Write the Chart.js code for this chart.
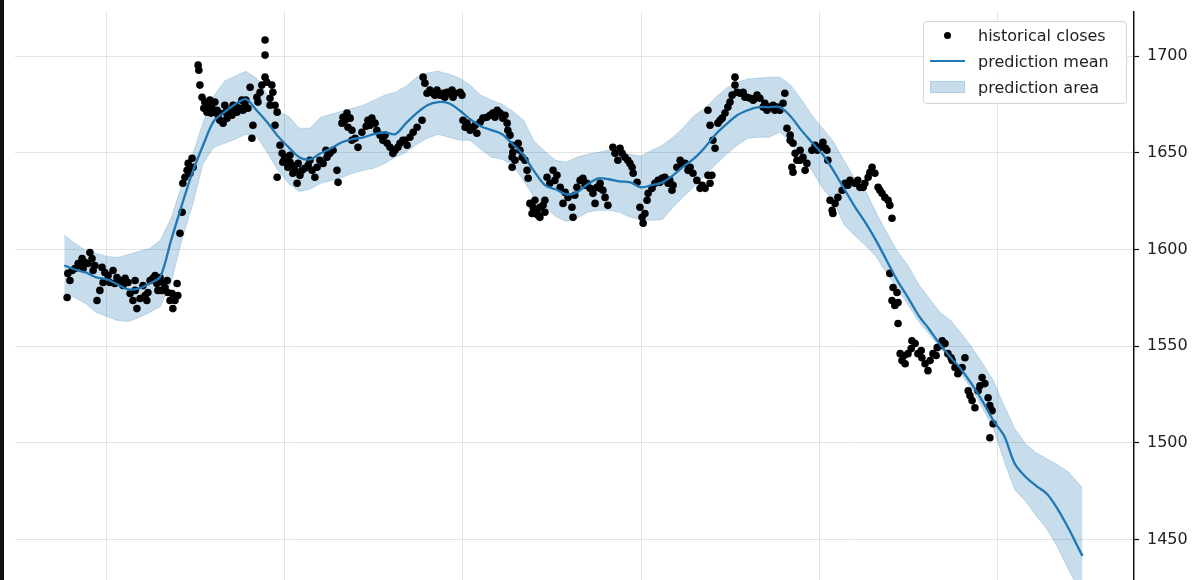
<!DOCTYPE html>
<html>
<head>
<meta charset="utf-8">
<title>Historical closes and prediction</title>
<script src="https://cdn.jsdelivr.net/npm/chart.js@4.4.1/dist/chart.umd.min.js"></script>
<style>
  html, body { margin: 0; padding: 0; background: #fff; }
  #wrap { position: relative; width: 1200px; height: 580px; overflow: hidden; }
  #forecastChart { display: block; }
  #edge { position: absolute; left: 0; top: 0; width: 4px; height: 580px; background: #111; }
  #legend {
    position: absolute; left: 923px; top: 21px; width: 204px; height: 83px;
    box-sizing: border-box; border: 1px solid #d4d4d4; border-radius: 4px;
    background: rgba(255, 255, 255, 0.92);
    font-family: "DejaVu Sans", sans-serif; font-size: 16px; color: #222;
  }
  .legend-row { position: absolute; left: 0; height: 20px; display: flex; align-items: center; white-space: nowrap; }
  .legend-key { width: 35px; height: 20px; margin-left: 6px; margin-right: 13px; display: flex; align-items: center; justify-content: center; }
  .key-dot { width: 7px; height: 7px; border-radius: 50%; background: #000; }
  .key-line { width: 35px; height: 2px; background: #1f77b4; }
  .key-area { width: 35px; height: 12px; box-sizing: border-box; background: rgba(31, 119, 180, 0.25); border: 1px solid rgba(31, 119, 180, 0.15); }
</style>
</head>
<body>
<div id="wrap">
  <canvas id="forecastChart" width="1200" height="585"></canvas>
  <div id="edge"></div>
  <div id="legend"></div>
</div>
<script>
/* =====================================
   Data
===================================== */
const yTicks = [1450, 1500, 1550, 1600, 1650, 1700];
const xTicks = [0, 50, 100, 150, 200, 250];

// prediction grid (days)
const predDays = [
  -12, -9, -6, -3, 0, 3, 6, 9, 12, 15,
  18, 21, 24, 27, 30, 33, 36, 39, 42, 45,
  48, 51, 54, 57, 60, 63, 66, 69, 72, 75,
  78, 81, 84, 87, 90, 93, 96, 99, 102, 105,
  108, 111, 114, 117, 120, 123, 126, 129, 132, 135,
  138, 141, 144, 147, 150, 153, 156, 159, 162, 165,
  168, 171, 174, 177, 180, 183, 186, 189, 192, 195,
  198, 201, 204, 207, 210, 213, 216, 219, 222, 225,
  228, 231, 234, 237, 240, 243, 246, 249, 252, 255,
  258, 261, 264, 267, 270, 273, 274
];

const predMean = [
  1591.7, 1589.6, 1588.1, 1585.5, 1584.5, 1581.9, 1579.3, 1579.8, 1582.4, 1586.0,
  1604.7, 1622.8, 1639.9, 1653.9, 1666.3, 1671.0, 1675.1, 1677.7, 1672.0, 1665.8,
  1658.6, 1652.9, 1647.7, 1646.6, 1649.7, 1652.3, 1655.4, 1657.0, 1658.0, 1659.6,
  1660.6, 1659.6, 1665.3, 1670.5, 1674.6, 1676.2, 1675.6, 1672.0, 1667.4, 1663.7,
  1661.7, 1659.6, 1654.4, 1648.7, 1640.4, 1633.2, 1631.1, 1628.5, 1629.5, 1633.7,
  1636.8, 1636.3, 1635.2, 1634.7, 1632.1, 1633.2, 1634.7, 1638.3, 1643.0, 1647.2,
  1652.9, 1659.6, 1664.8, 1669.4, 1672.0, 1673.6, 1673.6, 1673.6, 1668.9, 1661.7,
  1655.4, 1649.2, 1640.9, 1631.6, 1622.3, 1614.0, 1604.7, 1594.3, 1583.9, 1575.1,
  1565.8, 1558.6, 1550.8, 1544.1, 1537.8, 1530.1, 1521.3, 1511.4, 1503.6, 1489.1,
  1482.4, 1477.7, 1473.6, 1465.8, 1456.0, 1445.1, 1441.5
];

const predUpper = [
  1607.3, 1603.1, 1599.5, 1597.9, 1596.4, 1595.8, 1597.4, 1599.0, 1600.5, 1604.7,
  1616.1, 1633.2, 1648.7, 1665.8, 1679.3, 1687.0, 1689.6, 1692.2, 1688.6, 1680.3,
  1671.5, 1668.9, 1662.7, 1662.7, 1668.4, 1669.9, 1671.5, 1673.0, 1674.6, 1677.2,
  1679.8, 1681.3, 1684.4, 1689.1, 1691.2, 1692.2, 1690.7, 1688.6, 1685.0, 1679.8,
  1677.2, 1675.1, 1671.5, 1666.8, 1655.9, 1650.8, 1646.1, 1645.1, 1647.7, 1649.2,
  1650.2, 1651.3, 1650.2, 1649.2, 1648.2, 1651.3, 1653.9, 1658.0, 1663.2, 1669.4,
  1673.0, 1678.7, 1683.4, 1686.5, 1688.1, 1688.6, 1689.1, 1689.1, 1685.0, 1677.7,
  1669.4, 1662.7, 1655.9, 1646.1, 1636.8, 1630.6, 1619.2, 1608.8, 1599.0, 1591.7,
  1581.9, 1574.6, 1567.4, 1563.2, 1556.5, 1549.2, 1540.9, 1532.1, 1519.2, 1507.3,
  1499.5, 1494.8, 1491.7, 1488.6, 1485.0, 1478.8, 1476.7
];

const predLower = [
  1577.2, 1575.1, 1572.0, 1567.4, 1565.3, 1563.2, 1562.7, 1564.8, 1567.4, 1570.5,
  1582.9, 1604.7, 1622.8, 1644.5, 1652.8, 1654.9, 1657.0, 1659.6, 1658.5, 1650.2,
  1640.9, 1634.2, 1630.0, 1631.1, 1634.2, 1635.7, 1637.3, 1639.4, 1640.9, 1642.0,
  1644.5, 1647.7, 1650.2, 1654.4, 1657.5, 1659.6, 1658.0, 1656.5, 1656.5, 1651.8,
  1647.7, 1646.6, 1643.5, 1635.7, 1626.9, 1621.8, 1617.1, 1614.5, 1616.1, 1619.2,
  1620.2, 1620.2, 1619.2, 1616.6, 1615.5, 1615.0, 1615.5, 1621.8, 1627.5, 1632.6,
  1638.3, 1644.0, 1649.2, 1653.9, 1657.5, 1658.0, 1658.0, 1660.6, 1655.9, 1647.1,
  1640.9, 1631.6, 1625.4, 1612.9, 1607.2, 1602.1, 1596.4, 1587.6, 1579.8, 1571.5,
  1562.7, 1556.0, 1549.2, 1542.5, 1535.2, 1527.5, 1517.6, 1507.3, 1490.7, 1475.6,
  1469.9, 1462.2, 1455.4, 1446.1, 1434.7, 1424.4, 1420.7
];

// historical closes (day, price), one line per stretch
const closeDay = [
  -11.2, -11.0, -10.4, -9.8, -8.1, -7.0, -6.2, -4.8, -5.3, -6.7, -3.9, -1.4, -2.0, -2.8, -1.1, 0.3, 1.7, 2.8, 3.7, 5.1, 5.9, 6.5, 7.3, 8.4, 9.3, 10.7, 11.5, 11.2, 12.1, 12.9, 14.0, 14.9, 15.7, 16.3, 17.1, 18.3, 19.1, 18.5, 19.7, 19.9, 20.5,
  -7.6, -4.2, 0.8, 4.5, 7.9, 13.5, 15.4, 17.7,
  -9.0, -3.4, -0.6, 2.2, 7.9, 10.1, 14.3, 16.9,
  21.1, 21.3, 21.9, 22.5, 22.8, 23.9, 24.2, 23.3, 25.6, 25.8, 26.1, 26.7, 27.5, 28.4, 29.5, 30.3, 30.9, 29.8, 31.7, 32.6, 33.7, 35.1, 35.4, 36.5, 37.4, 38.8, 39.6, 40.2, 41.0, 40.7, 42.1, 43.0, 42.4, 44.4, 44.4, 44.4, 44.9, 45.8, 46.6, 47.2, 47.8, 47.2, 47.8, 48.6, 49.2, 49.4, 50.6, 51.4, 52.0, 52.8, 53.4,
  28.9, 31.2, 33.1, 37.9, 43.5,
  27.2, 28.1, 29.2, 31.5, 33.4, 34.6, 36.2, 38.2, 39.0, 45.8, 46.3,
  50.8, 52.2, 53.7, 54.8, 55.6, 56.5, 57.6, 58.4, 59.0, 59.8, 60.7, 61.8, 62.6, 63.5, 64.6, 64.9, 66.0, 66.3, 67.4, 67.7, 68.8, 68.8, 69.7, 70.5, 71.6, 73.3, 74.4, 75.3, 75.8, 76.7, 77.5, 78.7, 79.5, 80.3, 80.9, 82.3, 83.1, 84.3, 85.1, 86.0, 87.1, 88.5, 88.8, 89.3, 89.9, 90.7, 91.6, 92.7, 93.5, 94.4, 95.5, 96.3, 97.2,
  49.7, 51.4, 54.2, 57.0, 61.5, 66.9, 68.3, 72.8, 73.9, 78.1, 81.7, 83.7, 92.1, 94.9, 96.9,
  97.8, 99.2, 99.7, 100.0, 101.1, 102.0, 102.8, 103.9, 104.8, 105.6, 106.7, 107.6, 108.4, 109.6, 110.4, 111.2, 112.4, 112.6, 113.2, 113.8, 114.0, 113.8, 114.6, 115.5, 116.6, 117.4, 118.0, 118.3, 113.8, 118.8, 119.7, 120.8, 121.6, 119.4, 121.6, 122.5, 123.6, 124.4, 125.3, 126.4, 127.3, 128.7, 129.5, 128.1, 130.6, 130.9, 132.0, 132.9, 133.7, 134.8, 135.7, 136.5, 137.6, 138.5, 139.3, 139.9, 140.7, 137.1, 142.1, 142.7, 143.5, 144.7, 145.5, 146.3, 147.5, 147.8, 148.9, 149.7, 150.3, 150.6, 151.1, 151.7,
  120.2, 121.1, 123.0,
  100.6, 103.4, 109.0, 111.8, 116.0, 120.2, 123.0, 125.8, 131.4, 134.3, 138.5, 144.1, 146.9,
  152.0, 153.1, 153.9, 154.8, 155.9, 156.7, 157.6, 158.7, 159.0, 160.1, 161.0, 162.4, 163.8, 164.6, 165.7, 166.6, 168.0, 169.4, 168.8, 169.9, 168.8, 169.4, 170.2, 170.8, 171.6, 172.8, 173.6, 174.4, 175.0, 176.4, 176.4, 177.0, 177.8, 178.7, 179.8, 180.6, 181.5, 182.6, 183.4, 184.3, 185.4, 186.2, 187.1, 188.2, 189.0, 189.9, 190.4, 191.0, 191.9, 192.7, 193.3, 193.8, 194.7, 195.5, 196.6, 196.1, 192.4, 192.7, 198.0, 198.9, 200.3, 201.1, 202.2, 202.5, 203.1, 203.7, 203.9,
  155.3, 158.1, 161.5, 163.2, 167.2, 172.2, 175.6, 179.2, 182.0, 184.8, 187.6, 191.9, 194.7, 199.5, 201.8,
  204.5, 205.3, 206.5, 207.3, 208.7, 210.1, 211.5, 212.9, 213.8, 214.9, 215.7, 216.6, 217.7, 218.5, 219.4, 219.9, 220.5, 219.9, 220.8, 221.9, 220.5, 221.3, 222.2, 222.2, 222.8, 223.3, 224.2, 225.0, 226.1, 227.0, 227.8, 228.9, 229.8, 230.6, 231.2, 232.0, 233.2, 234.6, 235.4, 236.2, 237.4, 238.2, 239.0, 240.2, 241.0, 241.9, 243.0, 243.8, 244.7, 245.8, 246.6, 247.5, 248.6, 248.9, 248.0,
  208.1, 210.9, 212.4, 214.3, 217.1, 223.9, 225.9, 228.7, 232.9, 234.3, 237.1, 239.6, 242.4, 245.2, 248.0
];

const closePrice = [
  1575.1, 1587.6, 1583.9, 1589.1, 1592.7, 1595.3, 1593.3, 1598.4, 1592.7, 1590.1, 1589.1, 1590.7, 1578.8, 1573.6, 1582.9, 1586.5, 1589.1, 1585.5, 1583.9, 1585.0, 1582.9, 1577.2, 1573.6, 1569.4, 1574.6, 1576.2, 1577.7, 1573.6, 1583.9, 1585.0, 1582.4, 1585.5, 1582.9, 1580.3, 1577.7, 1577.2, 1573.6, 1569.4, 1582.4, 1576.2, 1608.3,
  1591.7, 1595.3, 1582.9, 1581.4, 1578.8, 1586.5, 1578.8, 1573.6,
  1590.1, 1591.7, 1588.1, 1582.4, 1583.9, 1581.3, 1578.8, 1583.9,
  1619.2, 1634.2, 1637.3, 1640.9, 1644.5, 1647.1, 1642.5, 1639.4, 1695.3, 1692.7, 1685.0, 1678.7, 1676.2, 1674.6, 1673.0, 1676.2, 1672.0, 1671.0, 1666.8, 1665.3, 1667.9, 1669.4, 1674.6, 1671.0, 1673.0, 1674.6, 1673.0, 1683.9, 1664.2, 1657.5, 1678.7, 1681.3, 1676.2, 1708.3, 1700.5, 1689.1, 1686.5, 1678.2, 1681.3, 1674.6, 1671.0, 1664.2, 1637.3, 1653.9, 1649.7, 1645.1, 1647.7, 1648.7, 1643.5, 1640.9, 1634.2,
  1677.2, 1669.4, 1674.6, 1677.2, 1685.0,
  1673.0, 1671.0, 1670.5, 1670.5, 1671.0, 1672.0, 1674.1, 1672.0, 1677.2, 1674.6, 1685.0,
  1642.5, 1639.4, 1644.5, 1640.9, 1642.0, 1643.5, 1640.9, 1637.3, 1642.5, 1646.1, 1644.5, 1647.7, 1649.7, 1651.3, 1640.9, 1634.7, 1665.3, 1668.4, 1670.5, 1663.2, 1661.6, 1656.5, 1657.5, 1652.8, 1660.6, 1666.8, 1667.9, 1665.3, 1661.6, 1659.1, 1656.5, 1654.9, 1652.8, 1649.7, 1651.3, 1654.9, 1656.5, 1653.9, 1658.0, 1660.6, 1663.2, 1666.8, 1689.1, 1686.0, 1680.8, 1682.4, 1680.8, 1682.4, 1679.8, 1680.8, 1681.3, 1680.8, 1678.7,
  1646.1, 1645.1, 1638.3, 1646.1, 1651.3, 1666.8, 1667.9, 1663.7, 1664.2, 1659.1, 1652.8, 1656.5, 1679.8, 1678.7, 1682.4,
  1680.8, 1681.3, 1679.8, 1666.8, 1665.3, 1661.6, 1663.2, 1660.1, 1665.8, 1667.9, 1668.4, 1669.4, 1670.5, 1672.0, 1670.5, 1667.9, 1665.3, 1661.6, 1659.1, 1653.9, 1650.2, 1647.7, 1646.1, 1654.9, 1647.7, 1646.1, 1640.9, 1636.8, 1642.5, 1623.8, 1621.8, 1620.2, 1621.8, 1618.6, 1616.6, 1622.8, 1637.3, 1634.2, 1640.9, 1638.3, 1632.1, 1629.5, 1626.9, 1623.8, 1621.8, 1616.6, 1632.1, 1635.7, 1636.8, 1634.2, 1631.6, 1629.0, 1632.1, 1634.2, 1630.6, 1626.9, 1622.8, 1623.8, 1652.8, 1649.7, 1646.1, 1649.7, 1647.7, 1646.1, 1642.5, 1639.4, 1634.7, 1621.8, 1616.6, 1613.5, 1618.6, 1625.4,
  1625.4, 1617.7, 1619.2,
  1663.2, 1664.2, 1668.4, 1669.4, 1651.3, 1618.6, 1625.4, 1635.7, 1628.0, 1633.2, 1631.6, 1652.3, 1644.5,
  1629.0, 1631.6, 1634.2, 1635.7, 1636.8, 1637.3, 1634.2, 1630.6, 1633.2, 1642.5, 1646.1, 1644.5, 1642.5, 1639.4, 1635.7, 1631.6, 1631.6, 1634.2, 1638.3, 1638.3, 1672.0, 1664.2, 1656.5, 1652.3, 1665.3, 1667.9, 1670.5, 1673.6, 1676.2, 1689.1, 1685.0, 1681.3, 1680.8, 1681.3, 1678.7, 1678.2, 1677.2, 1679.8, 1678.2, 1673.6, 1672.0, 1673.6, 1674.6, 1673.6, 1672.0, 1675.6, 1680.8, 1662.7, 1659.1, 1654.9, 1649.7, 1646.1, 1651.3, 1647.7, 1644.5, 1640.9, 1642.5, 1639.9, 1651.3, 1653.9, 1652.8, 1655.4, 1651.3, 1646.1, 1625.4, 1620.2, 1618.6,
  1634.7, 1635.7, 1644.5, 1640.9, 1633.2, 1666.8, 1679.8, 1678.7, 1678.2, 1675.6, 1672.0, 1656.5, 1646.1, 1651.3, 1652.3,
  1623.8, 1626.9, 1630.6, 1634.2, 1635.7, 1634.2, 1632.1, 1634.2, 1637.3, 1642.5, 1639.4, 1632.1, 1629.0, 1626.9, 1625.4, 1622.8, 1616.1, 1587.6, 1580.3, 1577.7, 1573.6, 1571.0, 1572.5, 1561.7, 1546.1, 1542.5, 1540.9, 1546.1, 1552.8, 1551.3, 1546.1, 1544.0, 1540.9, 1537.3, 1542.5, 1546.1, 1549.2, 1552.8, 1551.3, 1546.1, 1542.5, 1538.9, 1535.7, 1538.9, 1544.0, 1526.9, 1521.8, 1518.1, 1526.9, 1533.7, 1530.6, 1523.3, 1516.6, 1509.8, 1502.6,
  1633.2, 1635.7, 1632.1, 1639.9, 1630.6, 1545.1, 1548.7, 1547.7, 1545.1, 1550.3, 1544.0, 1537.3, 1524.4, 1529.5, 1519.2
];

/* =====================================
   Chart
===================================== */
document.addEventListener("DOMContentLoaded", () => {
  drawForecastChart();
});

function toPoints(xs, ys) {
  return xs.map((x, i) => ({ x: x, y: ys[i] }));
}

function flatFit(scale) {
  scale.paddingTop = 0;
  scale.paddingBottom = 0;
  scale.paddingLeft = 0;
  scale.paddingRight = 0;
}

function drawForecastChart() {

  const canvas = document.getElementById("forecastChart");
  if (!canvas || typeof Chart === "undefined") return;

  const gridColor = "#e2e2e2";
  const bandColor = "rgba(31, 119, 180, 0.25)";

  const chart = new Chart(canvas, {

    type: "line",

    data: {
      datasets: [
        {
          label: "prediction area",
          legendKey: "area",
          legendRank: 2,
          data: toPoints(predDays, predUpper),
          borderColor: "rgba(31, 119, 180, 0.22)",
          borderWidth: 1,
          backgroundColor: bandColor,
          pointRadius: 0,
          fill: "+1",
          tension: 0,
          order: 3
        },
        {
          label: "prediction lower",
          data: toPoints(predDays, predLower),
          borderColor: "rgba(31, 119, 180, 0.22)",
          borderWidth: 1,
          pointRadius: 0,
          fill: false,
          tension: 0,
          order: 3
        },
        {
          type: "scatter",
          label: "historical closes",
          legendKey: "dot",
          legendRank: 0,
          data: toPoints(closeDay, closePrice),
          backgroundColor: "#000",
          borderWidth: 0,
          pointRadius: 3.8,
          showLine: false,
          order: 1
        },
        {
          label: "prediction mean",
          legendKey: "line",
          legendRank: 1,
          data: toPoints(predDays, predMean),
          borderColor: "#1f77b4",
          borderWidth: 2.3,
          pointRadius: 0,
          fill: false,
          tension: 0.3,
          order: 0
        }
      ]
    },

    options: {
      responsive: false,
      animation: false,
      devicePixelRatio: 1,
      layout: {
        padding: { top: 12, left: 15, right: 0, bottom: 0 }
      },
      plugins: {
        legend: { display: false },
        tooltip: { enabled: false }
      },
      scales: {
        x: {
          type: "linear",
          min: -25.84,
          max: 288.48,
          afterBuildTicks: (s) => { s.ticks = xTicks.map((v) => ({ value: v })); },
          afterFit: (s) => { s.height = 0; flatFit(s); },
          ticks: { display: false },
          grid: { color: gridColor, lineWidth: 1, drawTicks: false },
          border: { display: false }
        },
        y: {
          type: "linear",
          position: "right",
          min: 1428.5,
          max: 1722.8,
          afterBuildTicks: (s) => { s.ticks = yTicks.map((v) => ({ value: v })); },
          afterFit: (s) => { s.width = 66; flatFit(s); },
          ticks: {
            color: "#222",
            padding: 8,
            font: { family: "DejaVu Sans", size: 16 },
            callback: (value) => String(value)
          },
          grid: {
            color: gridColor,
            lineWidth: 1,
            drawTicks: true,
            tickLength: 5,
            tickColor: "#000",
            tickWidth: 1.2
          },
          border: { display: true, color: "#111", width: 1.5 }
        }
      }
    }
  });

  buildLegend(chart);
}

/* =====================================
   Legend (matplotlib style box)
===================================== */
function buildLegend(chart) {

  const box = document.getElementById("legend");
  if (!box) return;

  const items = chart.data.datasets
    .filter((ds) => ds.legendKey)
    .sort((a, b) => a.legendRank - b.legendRank);

  items.forEach((ds, i) => {

    const row = document.createElement("div");
    row.className = "legend-row";
    row.style.top = (3 + i * 26) + "px";

    const key = document.createElement("span");
    key.className = "legend-key";

    const mark = document.createElement("span");
    mark.className = "key-" + ds.legendKey;
    key.appendChild(mark);

    const text = document.createElement("span");
    text.textContent = ds.label;

    row.appendChild(key);
    row.appendChild(text);
    box.appendChild(row);
  });
}
</script>
</body>
</html>
